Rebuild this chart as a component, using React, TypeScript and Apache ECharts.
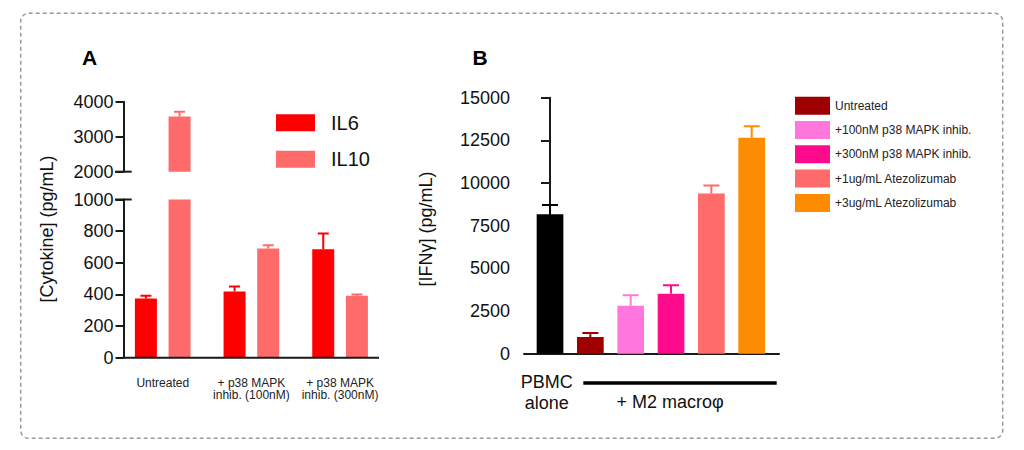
import React, { useEffect, useRef } from "react";
import * as echarts from "echarts";

const FONT = '"Liberation Sans", Arial, Helvetica, sans-serif';
const AXIS = "#1a1a1a";

// Panel A data
const catsA = ["Untreated", "+ p38 MAPK\ninhib. (100nM)", "+ p38 MAPK\ninhib. (300nM)"];
const il6 = [375, 418, 685];
const il6Err = [17, 32, 100];
const il10 = [3580, 690, 391];
const il10Err = [130, 21, 9];
const colorIL6 = "#FF0000";
const colorIL10 = "#FF6B6B";

// Panel B data
const groupsB = [
  "PBMC alone",
  "Untreated",
  "+100nM p38 MAPK inhib.",
  "+300nM p38 MAPK inhib.",
  "+1ug/mL Atezolizumab",
  "+3ug/mL Atezolizumab",
];
const ifng = [8170, 980, 2810, 3520, 9380, 12660];
const ifngErr = [545, 235, 610, 490, 470, 670];
const colorsB = ["#000000", "#9E0000", "#FF77DD", "#FF0A8C", "#FF6B6B", "#FF8C00"];

// layout constants
const gA = { left: 118.4, width: 266, axisX: 123.5, axisEnd: 379 };
const gAUp = { top: 101.7, height: 70 };
const gALow = { top: 199.5, height: 158.2 };
const gB = { left: 524, width: 255, top: 97.7, height: 256 };
const barWA = 22;
const barGapA = 0.53;
const offA = (barWA + barWA * barGapA) / 2;
const yOffA = -(gA.axisX - gA.left);

function errRender(color: string | null, cap: number, off: number, colors?: string[]) {
  return (params: any, api: any) => {
    const x = api.value(0);
    const v = api.value(1);
    const e = api.value(2);
    const c = colors ? colors[api.value(3)] : (color as string);
    const b = api.coord([x, v]);
    const t = api.coord([x, v + e]);
    const cx = b[0] + off;
    return {
      type: "group",
      children: [
        { type: "line", shape: { x1: cx, y1: b[1], x2: cx, y2: t[1] }, style: { stroke: c, lineWidth: 2 } },
        { type: "line", shape: { x1: cx - cap / 2, y1: t[1], x2: cx + cap / 2, y2: t[1] }, style: { stroke: c, lineWidth: 2 } },
      ],
    };
  };
}

const plain = (v: number) => String(v);

export default function App() {
  const ref = useRef<HTMLDivElement>(null);
  useEffect(() => {
    document.body.style.margin = "0";
    const chart = echarts.init(ref.current!, null, { renderer: "svg" });
    const yAxisCommon = {
      axisLine: { show: true, lineStyle: { color: AXIS, width: 2 } },
      axisTick: { show: true, length: 8, lineStyle: { color: AXIS, width: 2 } },
      splitLine: { show: false },
      axisLabel: { fontFamily: FONT, fontSize: 18, color: "#111", margin: 10, formatter: plain },
    };
    const option: any = {
      animation: false,
      backgroundColor: "#ffffff",
      grid: [
        { left: gA.left, width: gA.width, top: gAUp.top, height: gAUp.height },
        { left: gA.left, width: gA.width, top: gALow.top, height: gALow.height },
        { left: gB.left, width: gB.width, top: gB.top, height: gB.height },
      ],
      xAxis: [
        { type: "category", gridIndex: 0, data: catsA, show: false },
        {
          type: "category",
          gridIndex: 1,
          data: catsA,
          axisLine: { show: false },
          axisTick: { alignWithLabel: true, length: 7, lineStyle: { color: AXIS, width: 2 } },
          axisLabel: { fontFamily: FONT, fontSize: 12, lineHeight: 12, color: "#222", margin: 19, interval: 0 },
        },
        {
          type: "value",
          gridIndex: 2,
          min: -0.645,
          max: 5.677,
          axisLine: { show: true, lineStyle: { color: AXIS, width: 2 } },
          axisTick: { show: false },
          axisLabel: { show: false },
          splitLine: { show: false },
        },
      ],
      yAxis: [
        { type: "value", gridIndex: 0, min: 2000, max: 4000, interval: 1000, offset: yOffA, ...yAxisCommon },
        { type: "value", gridIndex: 1, min: 0, max: 1000, interval: 200, offset: yOffA, ...yAxisCommon },
        {
          type: "value",
          gridIndex: 2,
          min: 0,
          max: 15000,
          interval: 2500,
          ...yAxisCommon,
          axisTick: { show: true, length: 9, lineStyle: { color: AXIS, width: 2 } },
          axisLabel: { fontFamily: FONT, fontSize: 18, color: "#111", margin: 14, formatter: plain },
        },
      ],
      legend: [
        {
          data: ["IL6", "IL10"],
          orient: "vertical",
          left: 276,
          top: 112.7,
          padding: 0,
          icon: "rect",
          itemWidth: 39,
          itemHeight: 17,
          itemGap: 16.5,
          selectedMode: false,
          textStyle: { fontFamily: FONT, fontSize: 20, color: "#111", padding: [0, 0, 0, 11] },
        },
        {
          data: groupsB.slice(1),
          orient: "vertical",
          left: 795,
          top: 96.7,
          padding: 0,
          icon: "rect",
          itemWidth: 35,
          itemHeight: 18,
          itemGap: 6.3,
          selectedMode: false,
          textStyle: { fontFamily: FONT, fontSize: 12, color: "#222" },
        },
      ],
      series: [
        // Panel A upper segment
        { name: "IL6", type: "bar", xAxisIndex: 0, yAxisIndex: 0, data: il6, barWidth: barWA, barGap: `${barGapA * 100}%`, itemStyle: { color: colorIL6 }, clip: true },
        { name: "IL10", type: "bar", xAxisIndex: 0, yAxisIndex: 0, data: il10, barWidth: barWA, barGap: `${barGapA * 100}%`, itemStyle: { color: colorIL10 }, clip: true },
        // Panel A lower segment
        { name: "IL6", type: "bar", xAxisIndex: 1, yAxisIndex: 1, data: il6, barWidth: barWA, barGap: `${barGapA * 100}%`, itemStyle: { color: colorIL6 }, clip: true },
        { name: "IL10", type: "bar", xAxisIndex: 1, yAxisIndex: 1, data: il10, barWidth: barWA, barGap: `${barGapA * 100}%`, itemStyle: { color: colorIL10 }, clip: true },
        // Panel A error bars
        ...[0, 1].flatMap((gi) => [
          {
            type: "custom",
            xAxisIndex: gi,
            yAxisIndex: gi,
            clip: true,
            renderItem: errRender(colorIL6, 11, -offA),
            data: il6.map((v, i) => [i, v, il6Err[i]]),
            z: 3,
          },
          {
            type: "custom",
            xAxisIndex: gi,
            yAxisIndex: gi,
            clip: true,
            renderItem: errRender(colorIL10, 11, offA),
            data: il10.map((v, i) => [i, v, il10Err[i]]),
            z: 3,
          },
        ]),
        // Panel B bars
        {
          type: "bar",
          xAxisIndex: 2,
          yAxisIndex: 2,
          barWidth: 26.7,
          data: ifng.map((v, i) => ({ value: [i, v], itemStyle: { color: colorsB[i] } })),
        },
        {
          type: "custom",
          xAxisIndex: 2,
          yAxisIndex: 2,
          clip: true,
          renderItem: errRender(null, 16, 0, colorsB),
          data: ifng.map((v, i) => [i, v, ifngErr[i], i]),
          z: 3,
        },
        // legend entries for panel B
        ...groupsB.slice(1).map((name, i) => ({
          name,
          type: "scatter",
          xAxisIndex: 2,
          yAxisIndex: 2,
          data: [],
          itemStyle: { color: colorsB[i + 1], opacity: 1 },
        })),
      ],
      graphic: [
        {
          type: "rect",
          shape: { x: 20.7, y: 13.3, width: 982, height: 425, r: 8 },
          style: { fill: "none", stroke: "#9a9a9a", lineWidth: 1.5, lineDash: [4, 3] },
          silent: true,
        },
        { type: "text", x: 89.5, y: 57, style: { text: "A", font: `bold 21px ${FONT}`, fill: "#000", align: "center", verticalAlign: "middle" } },
        { type: "text", x: 480, y: 57, style: { text: "B", font: `bold 21px ${FONT}`, fill: "#000", align: "center", verticalAlign: "middle" } },
        {
          type: "text",
          x: 46.7,
          y: 229,
          rotation: Math.PI / 2,
          style: { text: "[Cytokine] (pg/mL)", font: `18px ${FONT}`, fill: "#111", align: "center", verticalAlign: "middle" },
        },
        {
          type: "text",
          x: 426,
          y: 229,
          rotation: Math.PI / 2,
          style: { text: "[IFNγ] (pg/mL)", font: `18px ${FONT}`, fill: "#111", align: "center", verticalAlign: "middle" },
        },
        // panel A x axis line (spans from the y axis to the right end)
        {
          type: "line",
          shape: { x1: gA.axisX - 1, y1: gALow.top + gALow.height, x2: gA.axisEnd, y2: gALow.top + gALow.height },
          style: { stroke: AXIS, lineWidth: 2 },
          z: 10,
        },
        // axis break stubs
        { type: "line", shape: { x1: 115, y1: gAUp.top + gAUp.height, x2: 131.7, y2: gAUp.top + gAUp.height }, style: { stroke: AXIS, lineWidth: 2 } },
        { type: "line", shape: { x1: 115, y1: gALow.top, x2: 131.7, y2: gALow.top }, style: { stroke: AXIS, lineWidth: 2 } },
        // panel B group labels
        {
          type: "text",
          x: 546.7,
          y: 392,
          style: { text: "PBMC\nalone", font: `18px ${FONT}`, lineHeight: 21, fill: "#111", align: "center", verticalAlign: "middle" },
        },
        { type: "line", shape: { x1: 583.3, y1: 383, x2: 776.7, y2: 383 }, style: { stroke: "#000", lineWidth: 3.5 } },
        { type: "text", x: 670, y: 402, style: { text: "+ M2 macroφ", font: `18px ${FONT}`, fill: "#111", align: "center", verticalAlign: "middle" } },
      ],
    };
    chart.setOption(option);
    return () => chart.dispose();
  }, []);
  return <div ref={ref} style={{ width: 1024, height: 450 }} />;
}
